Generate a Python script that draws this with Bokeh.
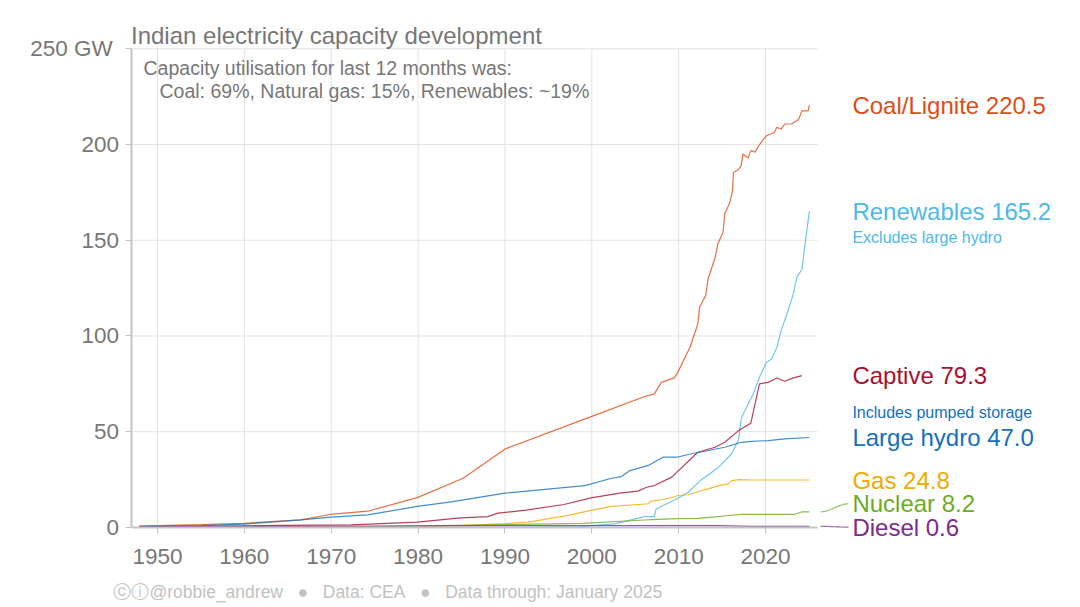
import numpy as np
from bokeh.plotting import figure
from bokeh.models import FixedTicker, Label
from bokeh.embed import file_html
from bokeh.resources import INLINE

FONT = "Liberation Sans"
GREY = "#777777"

# capacity in GW (fractional years)
coal_years = [1947.9, 1950, 1955, 1960, 1966.5, 1969.9, 1974.2, 1979.9, 1985.2, 1990.1,
              2000, 2006.1, 2007.2, 2008.0, 2009.5, 2009.9, 2011.3, 2012.2, 2012.4, 2013.1,
              2013.4, 2014.2, 2014.5, 2015.1, 2015.3, 2015.9, 2016.2, 2016.3, 2016.9, 2017.2,
              2017.4, 2018.0, 2018.3, 2018.8, 2019.3, 2020.1, 2021.0, 2021.3, 2021.8, 2022.2,
              2023.0, 2023.8, 2024.2, 2024.9, 2025.05]
coal = [0.8, 1.0, 1.5, 2.2, 4.0, 6.8, 8.5, 15.6, 25.7, 41.2,
        58.0, 68.4, 69.8, 75.8, 78.1, 81.0, 94.1, 106.3, 115.0, 121.0,
        130.0, 141.0, 148.0, 154.0, 163.7, 169.8, 175.9, 185.4, 187.0, 189.0,
        195.0, 193.0, 196.8, 196.0, 200.0, 204.6, 206.3, 209.0, 208.0, 210.7,
        210.7, 213.0, 217.6, 217.6, 220.5]

ren_years = [1947.9, 1990, 1998.5, 2002.6, 2006.1, 2007.2, 2007.4, 2009.8, 2011.1, 2012.5,
             2014.6, 2016.1, 2016.9, 2017.2, 2018.0, 2018.6, 2019.3, 2020.1, 2020.7, 2021.3,
             2021.8, 2022.6, 2023.2, 2023.6, 2024.2, 2024.5, 2025.05]
renewables = [0.0, 0.1, 0.5, 1.9, 5.7, 5.7, 9.7, 15.0, 18.4, 24.5,
              31.5, 38.5, 46.0, 57.0, 64.5, 69.8, 78.4, 86.3, 88.0, 94.0,
              102.8, 113.3, 122.0, 130.6, 135.0, 146.3, 165.2]

captive_years = [1947.9, 1960, 1972.3, 1979.9, 1984.9, 1988.0, 1989.2, 1992.2, 1996.8, 1999.9,
                 2003.4, 2005.3, 2006.3, 2007.2, 2009.2, 2012.2, 2014.2, 2015.3, 2016.9, 2018.3,
                 2019.3, 2020.3, 2021.3, 2022.2, 2023.2, 2024.2]
captive = [0.5, 0.9, 1.4, 2.8, 5.0, 5.7, 7.5, 8.9, 12.0, 15.5,
           18.1, 19.0, 21.0, 21.9, 26.3, 39.3, 41.9, 44.5, 50.6, 54.4,
           75.0, 75.8, 78.1, 76.4, 78.1, 79.3]

hydro_years = [1947.9, 1955, 1960, 1966.5, 1970, 1974.2, 1979.9, 1983.8, 1990.0, 1999.2,
               2002.3, 2003.4, 2004.4, 2006.5, 2008.2, 2009.8, 2011.1, 2013.0, 2015.3, 2017.2,
               2018.4, 2020.3, 2022.2, 2025.05]
hydro = [0.5, 1.0, 1.8, 4.0, 5.4, 6.6, 11.0, 13.4, 17.9, 21.9,
         25.7, 26.6, 29.7, 32.4, 36.7, 36.7, 38.1, 39.8, 41.9, 44.5,
         45.0, 45.4, 46.3, 47.0]

gas_years = [1947.9, 1975, 1980, 1985, 1990, 1992.7, 1997.3, 1999.9, 2002.3, 2006.5,
             2006.7, 2008.0, 2009.4, 2009.9, 2011.1, 2012.3, 2013.4, 2014.6, 2015.7, 2016.1,
             2016.9, 2018.4, 2022.2, 2025.05]
gas = [0.0, 0.1, 0.3, 1.0, 2.0, 2.8, 6.3, 8.9, 11.0, 12.4,
       13.6, 14.5, 15.8, 16.7, 17.1, 18.8, 20.2, 21.9, 22.8, 24.5,
       25.0, 24.8, 24.8, 24.8]

nuclear_years = [1947.9, 1969, 1972, 1990, 1999, 2006, 2006.9, 2009.9, 2012.2, 2014.8,
                 2015.2, 2017.2, 2023.3, 2024.2, 2025.05]
nuclear = [0.0, 0.2, 0.4, 1.5, 2.2, 3.9, 4.1, 4.6, 4.8, 5.8,
           6.0, 6.8, 6.8, 8.2, 8.2]

diesel_years = [1947.9, 1960, 1990, 2014.5, 2018.4, 2025.05]
diesel = [0.3, 0.5, 1.0, 1.0, 0.6, 0.6]

names = ["Coal/Lignite", "Renewables", "Captive", "Large hydro", "Gas", "Nuclear", "Diesel"]
colors = ["#dd4e17", "#4db9eb", "#a8102f", "#1570c0", "#f0ab00", "#6cab24", "#7a2c8e"]
series = [(coal_years, coal), (ren_years, renewables), (captive_years, captive),
          (hydro_years, hydro), (gas_years, gas), (nuclear_years, nuclear),
          (diesel_years, diesel)]
label_nudge = {"Nuclear": 4.2, "Diesel": -0.4}   # GW, keeps the bottom labels apart
sub_notes = {"Renewables": ("Excludes large hydro", -14.0),
             "Large hydro": ("Includes pumped storage", 13.0)}   # GW offset from label

decades = [1950, 1960, 1970, 1980, 1990, 2000, 2010, 2020]
gw_ticks = [0, 50, 100, 150, 200, 250]

axis_x = 1946.95
grid_end = 2025.98
label_x = 2030.0

# the frame covers the whole canvas; axes are pinned inside it
p = figure(width=1080, height=607, x_range=(1931.925, 2056.26), y_range=(-41.78, 275.2),
           output_backend="svg", toolbar_location=None, tools="",
           min_border=0)
p.outline_line_color = None
p.xgrid.grid_line_color = None
p.ygrid.grid_line_color = None

# grid drawn by hand so it stops where the data stop
p.segment(x0=decades, y0=0, x1=decades, y1=gw_ticks[-1], line_color="#e3e3e3", line_width=1)
p.segment(x0=axis_x, y0=gw_ticks[1:], x1=grid_end, y1=gw_ticks[1:], line_color="#e3e3e3", line_width=1)

for (yrs, vals), col in zip(series, colors):
    p.line(yrs, vals, line_color=col, line_width=1.2, line_alpha=0.8)

# end labels
lab_y = []
for name, (yrs, vals), col in zip(names, series, colors):
    y = vals[-1] + label_nudge.get(name, 0)
    lab_y.append(y)
    p.add_layout(Label(x=label_x, y=y, text=f"{name} {vals[-1]:.1f}", text_color=col,
                       text_font=FONT, text_font_size="24px", text_baseline="middle"))
    if name in sub_notes:
        note, dy = sub_notes[name]
        p.add_layout(Label(x=label_x, y=y + dy, text=note, text_color=col,
                           text_font=FONT, text_font_size="16px", text_baseline="middle"))

# connectors for nudged labels
t = np.linspace(0, 1, 15)
for name in label_nudge:
    i = names.index(name)
    y0, y1 = series[i][1][-1], lab_y[i]
    x0, x1 = 2026.35, label_x - 0.45
    p.line(x0 + t * (x1 - x0), y0 + (y1 - y0) * (3 * t ** 2 - 2 * t ** 3),
           line_color=colors[i], line_width=1.2, line_alpha=0.7)

# axes
p.xaxis.fixed_location = 0
p.yaxis.fixed_location = axis_x
p.xaxis.bounds = (axis_x, grid_end)
p.yaxis.bounds = (0, gw_ticks[-1])
for ax in (p.xaxis[0], p.yaxis[0]):
    ax.axis_line_color = "#c4c4c4"
    ax.axis_line_width = 2
    ax.major_tick_line_color = "#c4c4c4"
    ax.major_tick_line_width = 1
    ax.major_tick_out = 6
    ax.major_tick_in = 0
    ax.minor_tick_line_color = None
    ax.major_label_text_font = FONT
    ax.major_label_text_font_size = "22.5px"
    ax.major_label_text_color = GREY
p.xaxis.ticker = FixedTicker(ticks=decades, minor_ticks=[])
p.yaxis.ticker = FixedTicker(ticks=gw_ticks, minor_ticks=[])
p.yaxis.major_label_overrides = {250: "250 GW\u00a0"}
p.xaxis.major_label_standoff = 16
p.yaxis.major_label_standoff = 6

p.add_layout(Label(x=axis_x, y=257.0, text="Indian electricity capacity development",
                   text_font=FONT, text_font_size="24px", text_color=GREY, text_baseline="middle"))
p.add_layout(Label(x=1948.39, y=239.7, text="Capacity utilisation for last 12 months was:",
                   text_font=FONT, text_font_size="19.5px", text_color=GREY, text_baseline="middle"))
p.add_layout(Label(x=1950.23, y=228.2, text="Coal: 69%, Natural gas: 15%, Renewables: ~19%",
                   text_font=FONT, text_font_size="19.5px", text_color=GREY, text_baseline="middle"))

sp = "\u00a0" * 3
p.add_layout(Label(x=1944.93, y=-33.9,
                   text=f"ⓒⓘ@robbie_andrew{sp}●{sp}Data: CEA{sp}●{sp}Data through: January 2025",
                   text_font=FONT, text_font_size="17.5px", text_color="#c2c2c2",
                   text_baseline="middle"))

open("out.html", "w").write(file_html(p, INLINE))
